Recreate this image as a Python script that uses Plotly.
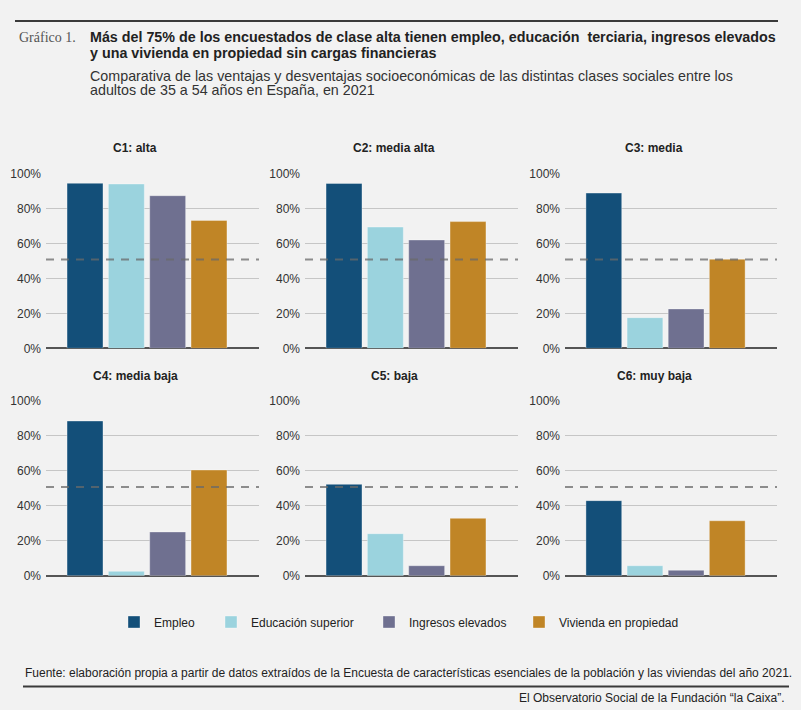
import plotly.graph_objects as go
from plotly.subplots import make_subplots

# data (shares, %)
clases = ["C1: alta", "C2: media alta", "C3: media", "C4: media baja", "C5: baja", "C6: muy baja"]
series = ["Empleo", "Educación superior", "Ingresos elevados", "Vivienda en propiedad"]
empleo = [94.3, 94.2, 88.7, 88.4, 52.2, 42.9]
educacion = [93.9, 69.3, 17.5, 2.5, 24.0, 5.7]
ingresos = [87.2, 61.9, 22.5, 25.0, 5.7, 3.1]
vivienda = [73.1, 72.4, 50.9, 60.4, 32.8, 31.4]
referencia = 50.7
tick_vals = [0, 20, 40, 60, 80, 100]
tick_text = [f"{v}%" for v in tick_vals]

valores = [empleo, educacion, ingresos, vivienda]
colores = ["#134f79", "#9bd3de", "#6f7090", "#c08526"]

W, H = 801, 710
col_px = [(46, 259), (305, 518), (565, 777)]
row_px = [(173.3, 348.3), (400.7, 575.7)]
title_py = [148.3, 375.7]
legend_px = [114, 211, 369, 519]

fig = make_subplots(rows=2, cols=3)

for k, clase in enumerate(clases):
    r, c = k // 3 + 1, k % 3 + 1
    for i, nombre in enumerate(series):
        fig.add_trace(go.Bar(
            x=[i], y=[valores[i][k]], name=nombre, width=0.87,
            marker=dict(color=colores[i], line=dict(color="rgba(255,255,255,0.35)", width=1)),
            showlegend=(k == 0), legendgroup=nombre,
            legend="legend" if i == 0 else "legend" + str(i + 1),
            hovertemplate=clase + "<br>" + nombre + ": %{y:.1f}%<extra></extra>",
        ), row=r, col=c)

    ax = "" if k == 0 else str(k + 1)
    x0, x1 = col_px[c - 1]
    y0, y1 = row_px[r - 1]
    fig.update_layout({
        "xaxis" + ax: dict(domain=[x0 / W, x1 / W], range=[-0.944, 4.21], automargin=False,
                           showticklabels=False, showgrid=False, zeroline=False, fixedrange=True),
        "yaxis" + ax: dict(domain=[1 - y1 / H, 1 - y0 / H], range=[0, 100], automargin=False,
                           tickmode="array", tickvals=tick_vals, ticktext=tick_text,
                           ticklabelstandoff=4,
                           showgrid=True, gridcolor="#c6c6c6", gridwidth=1,
                           zeroline=True, zerolinecolor="#555555", zerolinewidth=1.5,
                           tickfont=dict(size=12, color="#333333"), fixedrange=True),
    })
    fig.add_shape(type="line", xref="x" + ax + " domain", yref="y" + ax,
                  x0=0, x1=1, y0=referencia, y1=referencia,
                  line=dict(color="rgba(105,105,105,0.75)", width=2, dash="8px,7px"))
    fig.add_annotation(text="<b>" + clase + "</b>", xref="paper", yref="paper",
                       x=(x0 + 89) / W, y=1 - title_py[r - 1] / H, showarrow=False,
                       font=dict(size=12, color="#222222"), xanchor="center", yanchor="middle")

fuente_base = "Liberation Sans, Arial, sans-serif"

def texto(t, px, py, size, color="#222222", anchor="left", family=fuente_base):
    fig.add_annotation(text=t, xref="paper", yref="paper", x=px / W, y=1 - py / H,
                       showarrow=False, xanchor=anchor, yanchor="middle",
                       font=dict(size=size, color=color, family=family))

texto("Gráfico 1.", 17, 37.5, 14, "#555555", family="Liberation Serif, Times New Roman, serif")
texto("<b>Más del 75% de los encuestados de clase alta tienen empleo, educación  terciaria, ingresos elevados</b>",
      88, 37, 14.3)
texto("<b>y una vivienda en propiedad sin cargas financieras</b>", 88, 52.5, 14.3)
texto("Comparativa de las ventajas y desventajas socioeconómicas de las distintas clases sociales entre los",
      88, 76, 14.3, "#333333")
texto("adultos de 35 a 54 años en España, en 2021", 88, 90.5, 14.3, "#333333")
texto("Fuente: elaboración propia a partir de datos extraídos de la Encuesta de características esenciales de la población y las viviendas del año 2021.",
      23, 672.5, 12)
texto("El Observatorio Social de la Fundación “la Caixa”.", 786, 697.5, 12, anchor="right")

# page-sized overlay axes (in pixels, y down) used only for the two horizontal rules
fig.update_layout(
    xaxis7=dict(domain=[0, 1], range=[0, W], anchor="y7", visible=False, fixedrange=True),
    yaxis7=dict(domain=[0, 1], range=[H, 0], anchor="x7", visible=False, fixedrange=True),
)
for (rx0, rx1, ry) in [(15, 778, 21), (23, 789, 686.5)]:
    fig.add_trace(go.Scatter(x=[rx0, rx1], y=[ry, ry], xaxis="x7", yaxis="y7", mode="lines",
                             line=dict(color="#3a3a3a", width=2), showlegend=False,
                             hoverinfo="skip", cliponaxis=False))

leyenda = dict(orientation="h", y=1 - 622 / H, xanchor="left", yanchor="middle",
               font=dict(size=12, color="#222222"), bgcolor="rgba(0,0,0,0)",
               itemclick=False, itemdoubleclick=False)
legends = {}
for i, lx in enumerate(legend_px):
    legends["legend" if i == 0 else "legend" + str(i + 1)] = dict(leyenda, x=lx / W)

fig.update_layout(
    width=W, height=H, margin=dict(l=0, r=0, t=0, b=0, autoexpand=False),
    paper_bgcolor="#f2f2f2", plot_bgcolor="rgba(0,0,0,0)",
    font=dict(family=fuente_base, color="#222222", size=12),
    barmode="overlay",
    **legends,
)

# the page body has a default 8px margin; drop it so the figure fills the window
fig.write_html("out.html", config={"displayModeBar": False},
               post_script="document.body.style.margin = '0';")
